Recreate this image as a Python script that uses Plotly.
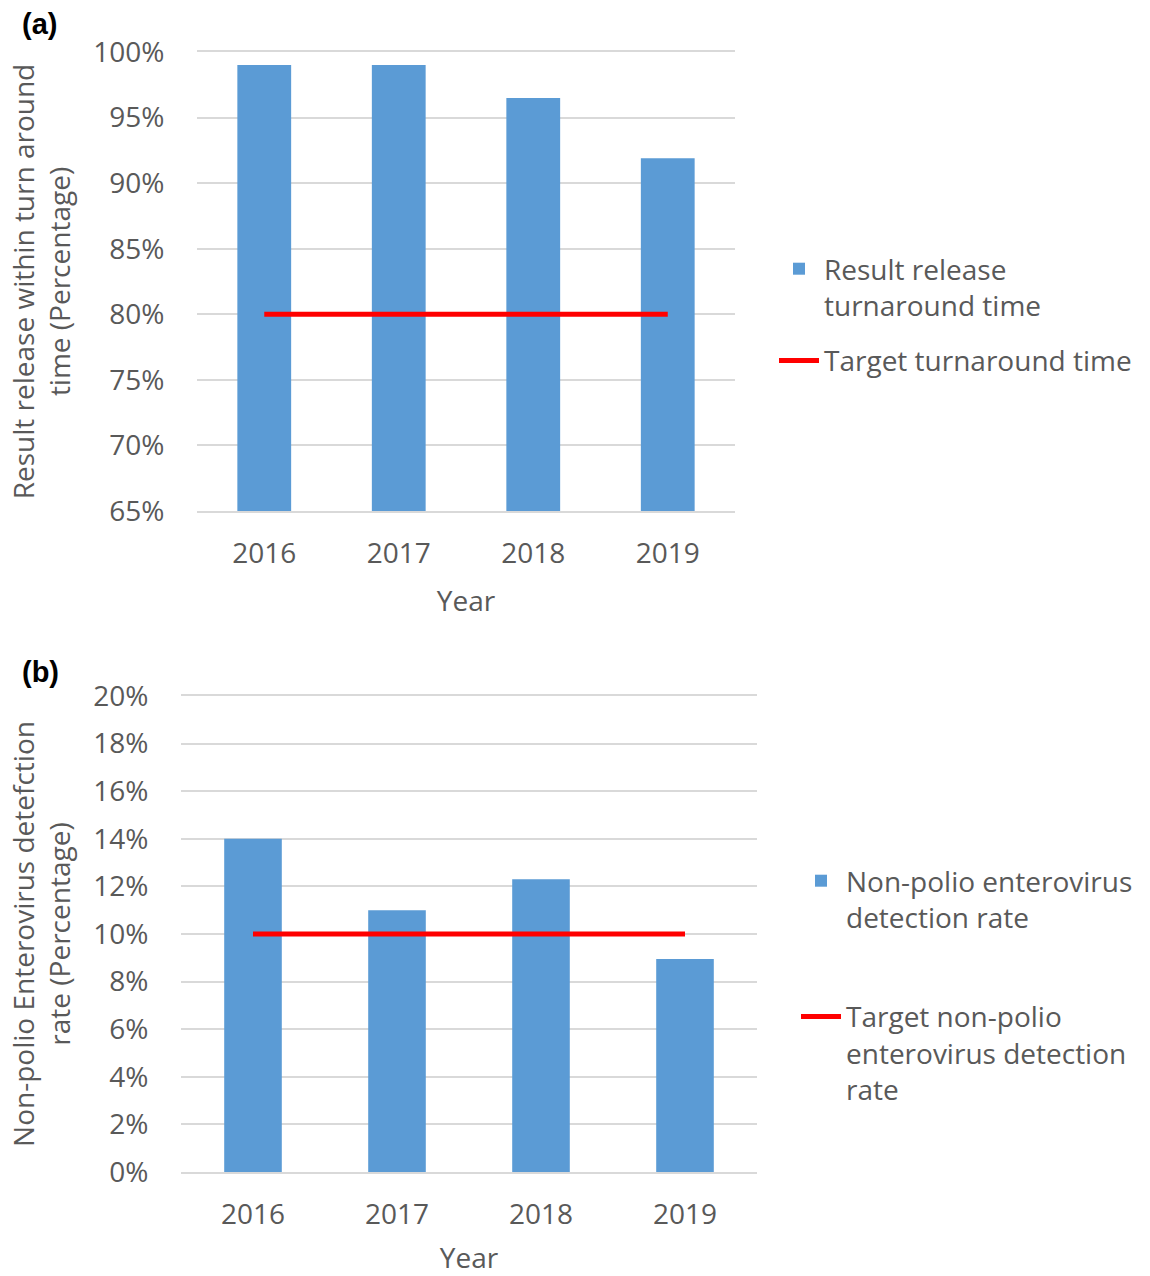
import plotly.graph_objects as go

W, H = 1150, 1276

# Panel (a): result release within turnaround time
years = ["2016", "2017", "2018", "2019"]
release_pct = [99.0, 99.0, 96.5, 91.9]
release_target = [80, 80, 80, 80]

# Panel (b): non-polio enterovirus detection rate
npev_pct = [14.0, 11.0, 12.3, 8.95]
npev_target = [10, 10, 10, 10]

BLUE = "#5b9bd5"
RED = "#ff0000"
GRID = "#d9d9d9"
TXT = "#595959"
FONT = "Open Sans"
FS = 28


def px_x(p):
    return p / W


def px_y(p):
    return 1 - p / H


fig = go.Figure()

fig.add_trace(go.Bar(
    x=years, y=release_pct, name="Result release<br>turnaround time",
    marker=dict(color=BLUE, line=dict(width=0)),
    xaxis="x", yaxis="y", legend="legend", legendgroup="a1",
))
fig.add_trace(go.Scatter(
    x=years, y=release_target, name="Target turnaround time", mode="lines",
    line=dict(color=RED, width=5),
    xaxis="x", yaxis="y", legend="legend", legendgroup="a2",
))
fig.add_trace(go.Bar(
    x=years, y=npev_pct, name="Non-polio enterovirus<br>detection rate",
    marker=dict(color=BLUE, line=dict(width=0)),
    xaxis="x2", yaxis="y2", legend="legend2", legendgroup="b1",
))
fig.add_trace(go.Scatter(
    x=years, y=npev_target,
    name="Target non-polio<br>enterovirus detection<br>rate", mode="lines",
    line=dict(color=RED, width=5),
    xaxis="x2", yaxis="y2", legend="legend2", legendgroup="b2",
))

tickfont = dict(family=FONT, size=FS, color=TXT)
titlefont = dict(family=FONT, size=FS, color=TXT)

xcommon = dict(
    type="category", showgrid=False, zeroline=False,
    showline=True, mirror=True, linecolor=GRID, linewidth=1.5,
    ticks="outside", ticklen=17, tickcolor="rgba(0,0,0,0)",
    tickfont=tickfont, automargin=False,
)
ycommon = dict(
    showgrid=True, gridcolor=GRID, gridwidth=1.5, zeroline=False,
    showline=False, ticksuffix="%",
    ticks="outside", ticklen=26, tickcolor="rgba(0,0,0,0)",
    tickfont=tickfont, automargin=False,
)

legend_common = dict(
    font=dict(family=FONT, size=FS, color=TXT),
    bgcolor="rgba(0,0,0,0)", valign="top",
    xanchor="left", yanchor="top", itemwidth=40,
)

fig.update_layout(
    width=W, height=H,
    margin=dict(l=0, r=0, t=0, b=0),
    paper_bgcolor="white", plot_bgcolor="white",
    bargap=0.6,
    showlegend=True,
    xaxis=dict(xcommon, domain=[px_x(197), px_x(735)], anchor="y",
               title=dict(text="Year", font=titlefont, standoff=21)),
    yaxis=dict(ycommon, domain=[px_y(511), px_y(52)], anchor="x",
               range=[65, 100], dtick=5,
               title=dict(text="Result release within turn around<br>time (Percentage)",
                          font=titlefont, standoff=14)),
    xaxis2=dict(xcommon, domain=[px_x(181), px_x(757)], anchor="y2",
                title=dict(text="Year", font=titlefont, standoff=22)),
    yaxis2=dict(ycommon, domain=[px_y(1172), px_y(696)], anchor="x2",
                range=[0, 20], dtick=2,
                title=dict(text="Non-polio Enterovirus detefction<br>rate (Percentage)",
                           font=titlefont, standoff=14)),
    legend=dict(legend_common, x=px_x(774), y=px_y(244), tracegroupgap=16),
    legend2=dict(legend_common, x=px_x(796), y=px_y(856), tracegroupgap=60),
    annotations=[
        dict(text="<b>(a)</b>", x=px_x(20), y=px_y(6), xref="paper", yref="paper",
             xanchor="left", yanchor="top", showarrow=False,
             font=dict(family="Liberation Sans", size=29, color="black")),
        dict(text="<b>(b)</b>", x=px_x(20), y=px_y(654), xref="paper", yref="paper",
             xanchor="left", yanchor="top", showarrow=False,
             font=dict(family="Liberation Sans", size=29, color="black")),
    ],
)

fig.write_html("out.html")
